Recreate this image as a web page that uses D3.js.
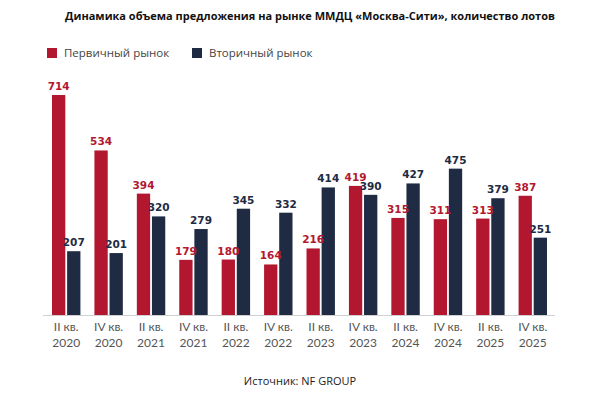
<!DOCTYPE html>
<html>
<head>
<meta charset="utf-8">
<script src="https://cdn.jsdelivr.net/npm/d3@7"></script>
<style>
  body { margin: 0; background: #fff; }
</style>
</head>
<body>
<div id="chart"></div>
<script>
const quarters = ["II кв.", "IV кв.", "II кв.", "IV кв.", "II кв.", "IV кв.", "II кв.", "IV кв.", "II кв.", "IV кв.", "II кв.", "IV кв."];
const years = ["2020", "2020", "2021", "2021", "2022", "2022", "2023", "2023", "2024", "2024", "2025", "2025"];
const primary = [714, 534, 394, 179, 180, 164, 216, 419, 315, 311, 313, 387];
const secondary = [207, 201, 320, 279, 345, 332, 414, 390, 427, 475, 379, 251];
const seriesNames = ["Первичный рынок", "Вторичный рынок"];
const colors = ["#b3172f", "#1e2b43"];

const width = 601, height = 394;
const baseY = 315;

const svg = d3.select("#chart").append("svg")
    .attr("width", width)
    .attr("height", height);

// title
svg.append("text")
    .attr("x", 310)
    .attr("y", 20)
    .attr("text-anchor", "middle")
    .attr("font-family", "Open Sans")
    .attr("font-weight", "bold")
    .attr("font-size", "11px")
    .attr("fill", "#111")
    .text("Динамика объема предложения на рынке ММДЦ «Москва-Сити», количество лотов");

// legend
const legendX = [47, 192];
seriesNames.forEach((name, i) => {
    svg.append("rect")
        .attr("x", legendX[i])
        .attr("y", 48)
        .attr("width", 10)
        .attr("height", 10)
        .attr("fill", colors[i]);
    svg.append("text")
        .attr("x", legendX[i] + 17)
        .attr("y", 57)
        .attr("font-family", "Open Sans")
        .attr("font-size", "11.5px")
        .attr("fill", "#444")
        .text(name);
});

const x = d3.scaleBand()
    .domain(d3.range(primary.length))
    .range([45, 554])
    .paddingInner(0.33)
    .paddingOuter(0.165);

const xSub = d3.scaleBand()
    .domain([0, 1])
    .range([0, x.bandwidth()])
    .paddingInner(0.12);

const y = d3.scaleLinear()
    .domain([0, 714])
    .range([baseY, 95]);

const rows = primary.map((p, i) => [p, secondary[i]]);

const groups = svg.selectAll("g.grp")
    .data(rows)
    .join("g")
    .attr("class", "grp")
    .attr("transform", (d, i) => `translate(${x(i)},0)`);

groups.selectAll("rect")
    .data(d => d)
    .join("rect")
    .attr("x", (d, j) => xSub(j))
    .attr("y", d => y(d))
    .attr("width", xSub.bandwidth())
    .attr("height", d => baseY - y(d))
    .attr("fill", (d, j) => colors[j]);

groups.selectAll("text.val")
    .data(d => d)
    .join("text")
    .attr("class", "val")
    .attr("x", (d, j) => xSub(j) + xSub.bandwidth() / 2)
    .attr("y", d => y(d) - 5)
    .attr("text-anchor", "middle")
    .attr("font-family", "DejaVu Sans")
    .attr("font-weight", "bold")
    .attr("font-size", "10.5px")
    .attr("fill", (d, j) => colors[j])
    .text(d => d);

// axis line
svg.append("line")
    .attr("x1", 43)
    .attr("x2", 555)
    .attr("y1", baseY + 0.5)
    .attr("y2", baseY + 0.5)
    .attr("stroke", "#d0d0d0")
    .attr("stroke-width", 1);

// category labels
quarters.forEach((q, i) => {
    const cx = x(i) + x.bandwidth() / 2;
    svg.append("text")
        .attr("x", cx)
        .attr("y", 331)
        .attr("text-anchor", "middle")
        .attr("font-family", "Lato")
        .attr("font-size", "12px")
        .attr("fill", "#555")
        .text(q);
    svg.append("text")
        .attr("x", cx)
        .attr("y", 347)
        .attr("text-anchor", "middle")
        .attr("font-family", "Lato")
        .attr("font-size", "12px")
        .attr("fill", "#555")
        .text(years[i]);
});

// source
svg.append("text")
    .attr("x", 300)
    .attr("y", 385)
    .attr("text-anchor", "middle")
    .attr("font-family", "Open Sans")
    .attr("font-size", "11px")
    .attr("fill", "#222")
    .text("Источник: NF GROUP");
</script>
</body>
</html>
